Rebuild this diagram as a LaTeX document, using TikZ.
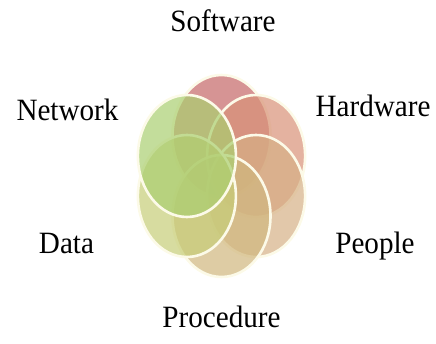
\documentclass[tikz,border=0pt]{standalone}
\usepackage{fontspec}
\setmainfont{Liberation Serif}[FakeStretch=0.94]
\usetikzlibrary{shapes.geometric}

\definecolor{swcol}{RGB}{197,102,102}
\definecolor{hwcol}{RGB}{216,145,119}
\definecolor{pplcol}{RGB}{214,176,134}
\definecolor{proccol}{RGB}{208,183,126}
\definecolor{datacol}{RGB}{198,205,119}
\definecolor{netcol}{RGB}{170,206,112}
\definecolor{rimcol}{RGB}{252,250,232}

\begin{document}
\begin{tikzpicture}[x=1pt, y=-1pt,
  petal/.style={ellipse, draw=rimcol, line width=2.6pt, fill opacity=0.7, inner sep=0pt, minimum width=98pt, minimum height=122pt},
  tag/.style={anchor=base, font=\fontsize{31}{31}\selectfont, text=black}]
\useasboundingbox (0,0) rectangle (436,344);

% petals
\node (software) [petal, fill=swcol] at (221.5,136) {};
\node (hardware) [petal, fill=hwcol] at (256.1,156) {};
\node (people) [petal, fill=pplcol] at (256.1,196) {};
\node (procedure) [petal, fill=proccol] at (221.5,216) {};
\node (data) [petal, fill=datacol] at (186.9,196) {};
\node (network) [petal, fill=netcol] at (186.9,156) {};

% labels
\node (swlabel) [tag] at (223,32) {Software};
\node (netlabel) [tag] at (67.5,121) {Network};
\node (hwlabel) [tag] at (373,116.5) {Hardware};
\node (datalabel) [tag] at (66.5,254) {Data};
\node (ppllabel) [tag] at (375,254) {People};
\node (proclabel) [tag] at (221.5,327) {Procedure};
\end{tikzpicture}
\end{document}
